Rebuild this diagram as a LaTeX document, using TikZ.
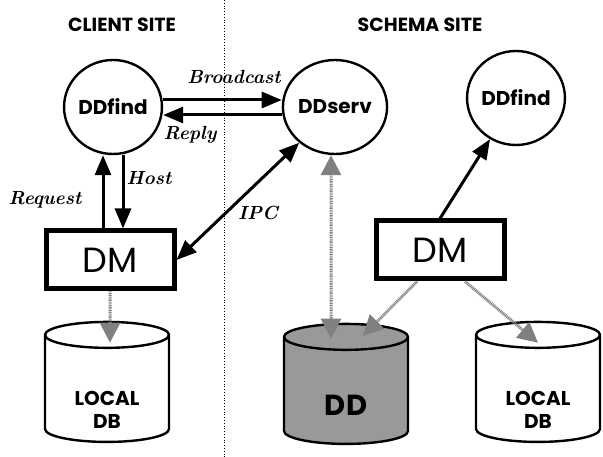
\documentclass[tikz,border=0pt]{standalone}
\usepackage{fontspec}
\newfontfamily\geofont{Poppins}
\usetikzlibrary{arrows.meta, shapes.geometric}

\begin{document}
\begin{tikzpicture}[x=1pt, y=-1pt,
  procnode/.style={draw, ellipse, line width=2.4pt, inner sep=0pt, minimum width=90pt, minimum height=94pt, font=\geofont\bfseries\fontsize{20}{22}\selectfont},
  dmbox/.style={draw, line width=5pt, minimum width=128pt, minimum height=58pt, inner sep=0pt, font=\geofont\fontsize{35}{36}\selectfont},
  dbnode/.style={draw, cylinder, shape border rotate=90, shape aspect=0.4, line width=2.4pt, minimum width=124pt, minimum height=120pt, inner sep=0pt, font=\geofont\bfseries\fontsize{20}{23}\selectfont},
  dbtext/.style={align=center, font=\geofont\bfseries\fontsize{20}{23}\selectfont},
  sitelabel/.style={font=\geofont\bfseries\fontsize{19}{22}\selectfont},
  msglabel/.style={font=\bfseries\itshape\fontsize{19}{22}\selectfont},
  msgarrow/.style={line width=3pt, -{Triangle[length=20pt,width=16pt]}},
  dbarrow/.style={line width=3pt, black!50, dash pattern=on 1pt off 0.7pt, -{Triangle[length=20pt,width=20pt]}}
]
\useasboundingbox (0,0) rectangle (603,457);

% site divider
\draw[dotted, line width=0.8pt] (224,0) -- (224,457);
\node[sitelabel] (clienthead) at (122,25) {CLIENT SITE};
\node[sitelabel] (schemahead) at (420,25) {SCHEMA SITE};

% processes
\node[procnode] (ddfindA) at (113,107) {DDfind};
\node[procnode, minimum width=98pt] (ddserv) at (335,107) {DDserv};
\node[procnode, minimum width=84pt] (ddfindB) at (516,98) {DDfind};

% data managers
\node[dmbox] (dmA) at (110,260) {DM};
\node[dmbox] (dmB) at (440,250) {DM};

% databases
\node[dbnode] (dbA) at (107,389) {\phantom{LOCAL}};
\node[dbnode, fill=black!40] (dd) at (346,391) {\phantom{LOCAL}};
\node[dbnode] (dbB) at (538,389) {\phantom{LOCAL}};
\node[dbtext] (dbAtext) at ([yshift=-21pt]dbA.center) {LOCAL\\DB};
\node[dbtext, font=\geofont\bfseries\fontsize{29}{30}\selectfont] (ddtext) at ([yshift=-14pt]dd.center) {DD};
\node[dbtext] (dbBtext) at ([yshift=-21pt]dbB.center) {LOCAL\\DB};

% messages
\draw[msgarrow] ([yshift=7pt]ddfindA.east) -- ([yshift=7pt]ddserv.west);
\draw[msgarrow] ([yshift=-8pt]ddserv.west) -- ([yshift=-8pt]ddfindA.east);
\draw[msgarrow] ([xshift=-7pt]dmA.north) -- ([xshift=-10pt]ddfindA.south);
\draw[msgarrow] ([xshift=10pt]ddfindA.south) -- ([xshift=13pt]dmA.north);
\draw[msgarrow, {Triangle[length=20pt,width=16pt]}-{Triangle[length=20pt,width=16pt]}] (dmA.east) -- (ddserv.225);
\draw[msgarrow] (dmB.north) -- (ddfindB);

\node[msglabel] (bcastlbl) at (234,77) {Broadcast};
\node[msglabel] (replylbl) at (190,135) {Reply};
\node[msglabel] (hostlbl) at (149,178) {Host};
\node[msglabel] (reqlbl) at (45,200) {Request};
\node[msglabel] (ipclbl) at (258,213) {IPC};

% data access
\draw[dbarrow] (dmA.south) -- ([xshift=3pt, yshift=-22pt]dbA.north);
\draw[dbarrow, {Triangle[length=20pt,width=20pt]}-{Triangle[length=20pt,width=20pt]}] ([xshift=-15pt, yshift=-16pt]dd.north) -- ([xshift=-4pt]ddserv.south);
\draw[dbarrow] ([xshift=-23pt]dmB.south) -- ([xshift=17pt, yshift=-13pt]dd.north);
\draw[dbarrow] ([xshift=25pt]dmB.south) -- ([yshift=-22pt]dbB.north);

\end{tikzpicture}
\end{document}
